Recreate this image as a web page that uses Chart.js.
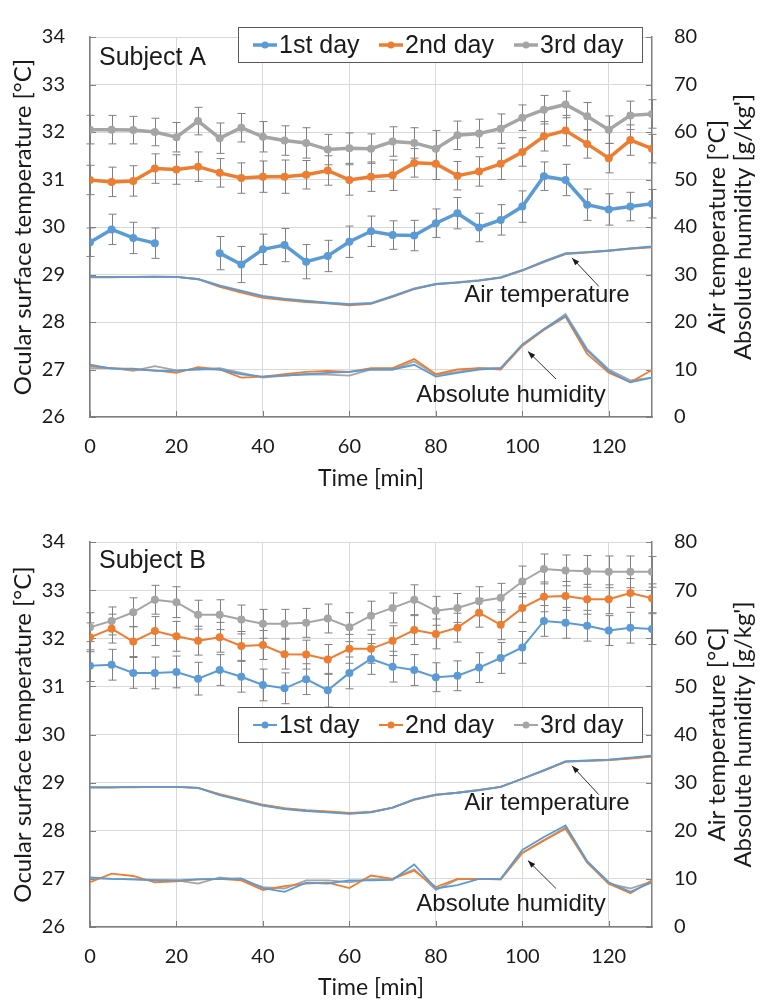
<!DOCTYPE html>
<html>
<head>
<meta charset="utf-8">
<script src="https://cdn.jsdelivr.net/npm/chart.js@4.4.0/dist/chart.umd.min.js"></script>
<style>
  body { margin: 0; background: #fff; }
  canvas { position: absolute; left: 0; }
  #chartA { top: 0; }
  #chartB { top: 505px; }
</style>
</head>
<body>
<canvas id="chartA" width="765" height="500"></canvas>
<canvas id="chartB" width="765" height="500"></canvas>
<script>
// time axis [min]
var times = [0,5,10,15,20,25,30,35,40,45,50,55,60,65,70,75,80,85,90,95,100,105,110,115,120,125,130];
var dayLabels = ["1st day", "2nd day", "3rd day"];
var dayColors = ["#5B9BD5", "#ED7D31", "#A5A5A5"];

// Subject A - ocular surface temperature [°C] and SD
var ocularA1 = [29.68,29.95,29.77,29.66,null,null,29.45,29.21,29.53,29.62,29.27,29.39,29.69,29.91,29.83,29.82,30.08,30.29,29.99,30.15,30.43,31.07,30.99,30.47,30.37,30.43,30.49];
var ocularA2 = [30.99,30.95,30.97,31.23,31.21,31.27,31.14,31.03,31.06,31.06,31.10,31.19,30.99,31.06,31.09,31.35,31.33,31.08,31.17,31.33,31.58,31.91,32.03,31.75,31.45,31.83,31.65];
var ocularA3 = [32.05,32.05,32.04,32.00,31.89,32.23,31.87,32.09,31.90,31.82,31.77,31.63,31.66,31.65,31.80,31.77,31.65,31.93,31.97,32.07,32.30,32.47,32.58,32.33,32.05,32.35,32.38];
var errA1 = [0.30,0.32,0.33,0.32,null,null,0.35,0.38,0.32,0.35,0.36,0.33,0.33,0.32,0.30,0.32,0.30,0.33,0.30,0.32,0.33,0.30,0.33,0.33,0.33,0.30,0.30];
var errA2 = [0.31,0.31,0.32,0.31,0.31,0.31,0.30,0.32,0.33,0.35,0.30,0.31,0.32,0.31,0.32,0.30,0.33,0.30,0.31,0.33,0.30,0.31,0.32,0.30,0.31,0.32,0.30];
var errA3 = [0.30,0.30,0.29,0.29,0.31,0.29,0.32,0.30,0.32,0.31,0.32,0.32,0.32,0.31,0.31,0.32,0.38,0.30,0.30,0.31,0.27,0.30,0.28,0.29,0.29,0.30,0.30];

// Subject A - air temperature [°C] and absolute humidity [g/kg']
var airA1 = [29.5,29.5,29.5,29.5,29.5,29.0,27.6,26.5,25.4,24.8,24.4,24.0,23.7,23.9,25.4,27.0,28.0,28.3,28.7,29.4,30.9,32.7,34.4,34.7,35.0,35.5,35.9];
var airA2 = [29.4,29.4,29.5,29.5,29.5,29.0,27.4,26.2,25.1,24.6,24.2,23.9,23.5,23.8,25.3,26.9,27.9,28.3,28.7,29.3,30.8,32.6,34.3,34.6,35.0,35.4,35.7];
var airA3 = [29.5,29.5,29.5,29.6,29.5,29.1,27.7,26.6,25.5,24.9,24.5,24.1,23.8,24.0,25.5,27.1,28.0,28.4,28.8,29.4,30.9,32.8,34.5,34.7,35.1,35.5,35.8];
var humA1 = [11.0,10.2,10.2,9.7,9.7,10.1,10.0,9.0,8.5,8.7,9.0,9.3,9.5,10.0,10.0,11.0,8.5,9.3,10.0,10.3,15.3,18.5,21.3,14.0,9.7,7.3,8.3];
var humA2 = [10.7,10.3,10.0,9.8,9.3,10.5,10.0,8.3,8.5,9.0,9.5,9.7,9.5,10.3,10.3,12.2,9.0,10.0,10.3,10.0,15.0,18.3,21.1,13.3,9.3,7.3,9.9];
var humA3 = [10.3,10.3,9.7,10.7,9.8,10.0,10.3,9.3,8.3,8.7,9.0,8.9,8.7,10.0,10.0,11.7,8.9,9.5,10.3,10.3,15.0,18.5,21.7,14.3,10.0,7.7,8.3];

// Subject B - ocular surface temperature [°C] and SD
var ocularB1 = [31.43,31.45,31.28,31.28,31.30,31.16,31.34,31.20,31.03,30.96,31.15,30.92,31.28,31.57,31.41,31.34,31.19,31.22,31.39,31.59,31.81,32.36,32.32,32.26,32.16,32.22,32.19];
var ocularB2 = [32.02,32.20,31.93,32.15,32.04,31.95,32.02,31.84,31.86,31.67,31.66,31.56,31.78,31.78,31.95,32.17,32.09,32.22,32.53,32.28,32.63,32.86,32.88,32.81,32.81,32.94,32.83];
var ocularB3 = [32.23,32.36,32.54,32.80,32.75,32.49,32.49,32.39,32.30,32.30,32.32,32.41,32.23,32.47,32.63,32.80,32.57,32.63,32.77,32.84,33.18,33.44,33.41,33.39,33.38,33.38,33.38];
var errB1 = [0.33,0.32,0.32,0.33,0.33,0.34,0.32,0.32,0.33,0.32,0.32,0.35,0.33,0.32,0.32,0.32,0.30,0.31,0.31,0.32,0.33,0.32,0.32,0.32,0.31,0.32,0.32];
var errB2 = [0.30,0.30,0.31,0.30,0.31,0.30,0.31,0.30,0.30,0.31,0.30,0.31,0.30,0.30,0.31,0.30,0.31,0.30,0.30,0.31,0.30,0.31,0.30,0.31,0.30,0.30,0.30];
var errB3 = [0.30,0.29,0.30,0.30,0.32,0.30,0.31,0.30,0.30,0.30,0.30,0.30,0.30,0.30,0.31,0.31,0.30,0.30,0.30,0.30,0.32,0.31,0.32,0.33,0.33,0.33,0.32];

// Subject B - air temperature [°C] and absolute humidity [g/kg']
var airB1 = [29.0,29.0,29.1,29.1,29.1,28.9,27.4,26.3,25.2,24.5,24.1,23.8,23.5,23.8,24.8,26.5,27.5,27.9,28.4,29.1,30.8,32.6,34.4,34.6,34.8,35.2,35.6];
var airB2 = [29.0,29.0,29.0,29.1,29.1,28.9,27.6,26.5,25.4,24.7,24.3,24.0,23.7,23.9,24.8,26.4,27.4,27.9,28.5,29.1,30.8,32.5,34.3,34.5,34.7,35.0,35.4];
var airB3 = [29.0,29.0,29.1,29.1,29.1,28.9,27.5,26.4,25.3,24.6,24.2,23.9,23.6,23.9,24.8,26.5,27.5,27.9,28.5,29.1,30.8,32.5,34.4,34.5,34.7,35.1,35.5];
var humB1 = [10.3,10.0,9.9,9.7,9.7,9.9,10.0,10.1,8.1,7.3,9.2,9.0,9.7,9.7,9.8,13.0,8.0,8.7,10.0,10.0,16.0,18.7,21.1,13.7,9.3,7.3,9.3];
var humB2 = [9.3,11.1,10.6,9.3,9.5,9.9,10.0,9.7,7.7,8.5,9.0,9.2,8.1,10.7,10.0,11.7,8.3,10.0,10.0,9.9,15.4,18.0,20.4,13.4,9.0,7.0,9.7];
var humB3 = [10.1,10.0,9.9,9.8,9.7,9.0,10.3,9.8,8.3,8.0,9.7,9.7,9.3,9.9,10.0,12.0,7.7,9.9,10.0,9.9,15.4,18.0,20.7,13.4,9.0,8.0,9.5];

var tickFont = "Lato";
var textFont = "'Liberation Sans', Arial, sans-serif";

function pts(vals) {
    return times.map(function(t, i) { return {x: t, y: vals[i]}; });
}

function makeChart(id, s) {
    var ctxEl = document.getElementById(id);
    var datasets = [];
    var ocular = [s.ocular1, s.ocular2, s.ocular3];
    for (var i = 0; i < 3; i++) {
        datasets.push({
            label: dayLabels[i], data: pts(ocular[i]), yAxisID: "y",
            borderColor: dayColors[i], backgroundColor: dayColors[i],
            borderWidth: s.lineWidth, pointRadius: 4, pointBorderWidth: 0,
            tension: 0, spanGaps: false
        });
    }
    var env = [s.air1, s.air2, s.air3, s.hum1, s.hum2, s.hum3];
    for (var j = 0; j < env.length; j++) {
        datasets.push({
            label: "env" + j, data: pts(env[j]), yAxisID: "y1",
            borderColor: dayColors[j % 3], borderWidth: 1.8,
            pointRadius: 0, tension: 0
        });
    }
    var errs = [s.err1, s.err2, s.err3];

    // error bars, legend, labels and arrows
    var extras = {
        id: "extras",
        beforeDatasetsDraw: function(chart) {
            var c = chart.ctx, xs = chart.scales.x, ys = chart.scales.y;
            c.save();
            c.strokeStyle = "#808080";
            c.lineWidth = 1;
            for (var k = 0; k < 3; k++) {
                for (var n = 0; n < times.length; n++) {
                    var v = ocular[k][n], e = errs[k][n];
                    if (v === null || e === null) continue;
                    var px = Math.round(xs.getPixelForValue(times[n])) + 0.5;
                    var y1 = ys.getPixelForValue(v + e), y2 = ys.getPixelForValue(v - e);
                    c.beginPath();
                    c.moveTo(px, y1); c.lineTo(px, y2);
                    c.moveTo(px - 4, y1); c.lineTo(px + 4, y1);
                    c.moveTo(px - 4, y2); c.lineTo(px + 4, y2);
                    c.stroke();
                }
            }
            // inner tick marks
            var a = chart.chartArea;
            c.strokeStyle = "#7f7f7f";
            c.beginPath();
            xs.ticks.forEach(function(t) {
                var px = Math.round(xs.getPixelForValue(t.value)) + 0.5;
                c.moveTo(px, a.bottom); c.lineTo(px, a.bottom - 6);
            });
            ys.ticks.forEach(function(t) {
                var py = Math.round(ys.getPixelForValue(t.value)) + 0.5;
                c.moveTo(a.left, py); c.lineTo(a.left + 6, py);
            });
            chart.scales.y1.ticks.forEach(function(t) {
                var py = Math.round(chart.scales.y1.getPixelForValue(t.value)) + 0.5;
                c.moveTo(a.right, py); c.lineTo(a.right - 6, py);
            });
            c.stroke();
            c.restore();
        },
        afterDraw: function(chart) {
            var c = chart.ctx, xs = chart.scales.x, yr = chart.scales.y1, a = chart.chartArea;
            c.save();
            // subject label
            c.fillStyle = "#1a1a1a";
            c.font = "25px " + textFont;
            c.textBaseline = "middle";
            c.textAlign = "left";
            c.fillText(s.subject, a.left + 9, a.top + s.subjectDy);

            // legend box
            var ly = s.legendY;
            c.strokeStyle = "#595959";
            c.lineWidth = 1;
            c.fillStyle = "#fff";
            c.fillRect(238, ly, 404, 35);
            c.strokeRect(238.5, ly + 0.5, 404, 35);
            var lx = [253, 379, 514];
            for (var k = 0; k < 3; k++) {
                var cy = ly + 18;
                c.strokeStyle = dayColors[k];
                c.lineWidth = s.lineWidth;
                c.beginPath(); c.moveTo(lx[k], cy); c.lineTo(lx[k] + 24, cy); c.stroke();
                c.fillStyle = dayColors[k];
                c.beginPath(); c.arc(lx[k] + 12, cy, 3.5, 0, Math.PI * 2); c.fill();
                c.fillStyle = "#1a1a1a";
                c.font = "25px " + textFont;
                c.fillText(dayLabels[k], lx[k] + 26, cy + 1);
            }

            // annotations with arrows
            c.textAlign = "center";
            c.fillStyle = "#1a1a1a";
            c.font = "24px " + textFont;
            c.fillText("Air temperature", xs.getPixelForValue(105.7), yr.getPixelForValue(25.7));
            c.fillText("Absolute humidity", xs.getPixelForValue(97.4), yr.getPixelForValue(4.6));
            function arrow(t0, v0, t1, v1) {
                var x0 = xs.getPixelForValue(t0), y0 = yr.getPixelForValue(v0);
                var x1 = xs.getPixelForValue(t1), y1 = yr.getPixelForValue(v1);
                var ang = Math.atan2(y1 - y0, x1 - x0);
                c.strokeStyle = "#1a1a1a";
                c.lineWidth = 0.9;
                c.beginPath(); c.moveTo(x0, y0); c.lineTo(x1, y1); c.stroke();
                c.beginPath();
                c.moveTo(x1, y1);
                c.lineTo(x1 - 8 * Math.cos(ang - 0.35), y1 - 8 * Math.sin(ang - 0.35));
                c.lineTo(x1 - 8 * Math.cos(ang + 0.35), y1 - 8 * Math.sin(ang + 0.35));
                c.closePath();
                c.fillStyle = "#1a1a1a";
                c.fill();
            }
            arrow(117.7, 27.5, 111.5, 33.5);
            arrow(107.8, 8.0, 101.3, 13.8);

            // right axis titles (reading upwards)
            var midY = (a.top + a.bottom) / 2;
            c.font = "24px " + tickFont;
            c.fillStyle = "#1a1a1a";
            c.translate(717, midY);
            c.rotate(-Math.PI / 2);
            c.fillText("Air temperature [°C]", 0, 0);
            c.fillText("Absolute humidity [g/kg']", 0, 26);
            c.restore();
        }
    };

    return new Chart(ctxEl, {
        type: "line",
        data: { datasets: datasets },
        options: {
            responsive: false,
            animation: false,
            layout: { padding: { top: s.padTop, left: 0, right: 0, bottom: 0 } },
            plugins: { legend: { display: false }, tooltip: { enabled: false } },
            scales: {
                x: {
                    type: "linear", min: 0, max: 130,
                    afterFit: function(sc) { sc.height = 500 - s.plotBottom; },
                    ticks: { stepSize: 20, includeBounds: false, padding: 18, color: "#1a1a1a",
                             font: { family: tickFont, size: 20 } },
                    grid: { color: "#d9d9d9", drawTicks: false },
                    border: { color: "#7f7f7f", width: 1.5 },
                    title: { display: true, text: "Time [min]", color: "#1a1a1a",
                             font: { family: tickFont, size: 23 }, padding: { top: 0, bottom: s.titlePadX } }
                },
                y: {
                    position: "left", min: 26, max: 34,
                    afterFit: function(sc) { sc.width = 90; },
                    ticks: { stepSize: 1, padding: 25, color: "#1a1a1a",
                             font: { family: tickFont, size: 20 } },
                    grid: { color: "#d9d9d9", drawTicks: false },
                    border: { color: "#7f7f7f", width: 1.5 },
                    title: { display: true, text: "Ocular surface temperature [°C]", color: "#1a1a1a",
                             font: { family: tickFont, size: 24 }, padding: { top: 9, bottom: 0 } }
                },
                y1: {
                    position: "right", min: 0, max: 80,
                    afterFit: function(sc) { sc.width = 113; },
                    ticks: { stepSize: 10, padding: 22, color: "#1a1a1a",
                             font: { family: tickFont, size: 20 } },
                    grid: { drawOnChartArea: false, drawTicks: false },
                    border: { color: "#7f7f7f", width: 1.5 }
                }
            }
        },
        plugins: [extras]
    });
}

makeChart("chartA", {
    subject: "Subject A", subjectDy: 21, legendY: 27, lineWidth: 3.5,
    padTop: 18, plotBottom: 417, titlePadX: 8,
    ocular1: ocularA1, ocular2: ocularA2, ocular3: ocularA3,
    err1: errA1, err2: errA2, err3: errA3,
    air1: airA1, air2: airA2, air3: airA3,
    hum1: humA1, hum2: humA2, hum3: humA3
});

makeChart("chartB", {
    subject: "Subject B", subjectDy: 19, legendY: 202, lineWidth: 2,
    padTop: 24, plotBottom: 422, titlePadX: 4,
    ocular1: ocularB1, ocular2: ocularB2, ocular3: ocularB3,
    err1: errB1, err2: errB2, err3: errB3,
    air1: airB1, air2: airB2, air3: airB3,
    hum1: humB1, hum2: humB2, hum3: humB3
});
</script>
</body>
</html>
